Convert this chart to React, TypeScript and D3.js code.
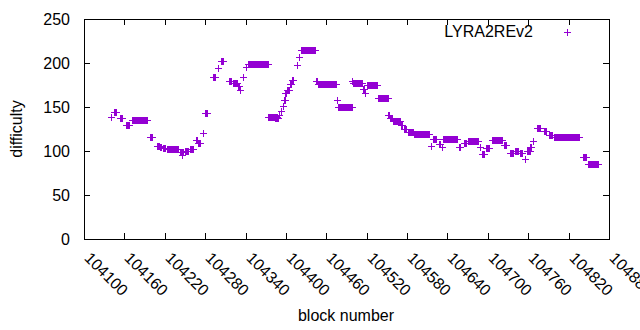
import React from 'react';
import * as d3 from 'd3';

const seriesName = 'LYRA2REv2';
const xTickValues = [104100, 104160, 104220, 104280, 104340, 104400, 104460, 104520, 104580, 104640, 104700, 104760, 104820, 104880];
const yTickValues = [0, 50, 100, 150, 200, 250];

// runs of blocks sharing the same difficulty: first block, last block, difficulty
const runFirst = [
  104140, 104145, 104154, 104163, 104172, 104198, 104208, 104213, 104217, 104224,
  104243, 104246, 104250, 104258, 104266, 104270, 104277, 104280, 104291, 104299,
  104303, 104315, 104322, 104329, 104332, 104336, 104340, 104344, 104374, 104384,
  104390, 104392, 104395, 104397, 104399, 104402, 104406, 104409, 104416, 104419,
  104422, 104445, 104448, 104476, 104478, 104498, 104500, 104515, 104517, 104520,
  104537, 104552, 104555, 104559, 104571, 104576, 104581, 104591, 104615, 104619,
  104627, 104632, 104634, 104657, 104664, 104670, 104688, 104692, 104697, 104706,
  104724, 104733, 104740, 104748, 104755, 104758, 104763, 104767, 104773, 104783,
  104791, 104798, 104841, 104849,
];
const runLast = [
  104140, 104147, 104157, 104167, 104193, 104201, 104211, 104214, 104220, 104240,
  104247, 104246, 104255, 104262, 104268, 104272, 104277, 104283, 104295, 104299,
  104307, 104319, 104327, 104331, 104332, 104336, 104340, 104373, 104386, 104388,
  104390, 104393, 104396, 104398, 104400, 104404, 104407, 104411, 104417, 104420,
  104443, 104446, 104474, 104476, 104498, 104498, 104513, 104516, 104517, 104536,
  104551, 104553, 104557, 104569, 104573, 104578, 104589, 104613, 104615, 104623,
  104629, 104632, 104654, 104659, 104667, 104686, 104689, 104694, 104701, 104721,
  104727, 104737, 104745, 104751, 104755, 104762, 104764, 104767, 104778, 104787,
  104795, 104836, 104846, 104863,
];
const runDifficulty = [
  139, 144, 138, 129, 135, 116, 106, 104, 103, 102,
  99, 96, 100, 102, 112, 109, 121, 143, 184, 194,
  202, 180, 177, 174, 169, 184, 196, 199, 139, 137,
  141, 146, 151, 158, 166, 169, 176, 181, 198, 207,
  215, 180, 176, 158, 150, 180, 177, 170, 166, 175,
  160, 141, 137, 134, 129, 125, 122, 119, 106, 114,
  108, 104, 114, 104, 109, 111, 104, 97, 103, 113,
  107, 98, 100, 98, 91, 100, 105, 111, 126, 123,
  118, 116, 93, 85,
];

const W = 640;
const H = 330;
const left = 84, right = 609, top = 19, bottom = 239;
const color = '#9400d3';
const font = '"Liberation Sans", Arial, sans-serif';
const fontSize = 16;

const points: { block: number; value: number }[] = [];
runFirst.forEach((first, i) => {
  for (let b = first; b <= runLast[i]; b++) points.push({ block: b, value: runDifficulty[i] });
});

const plus = (x: number, y: number) => {
  const cx = Math.round(x) + 0.5;
  const cy = Math.round(y) + 0.5;
  return `M${cx - 3.5},${cy}H${cx + 3.5}M${cx},${cy - 3.5}V${cy + 3.5}`;
};

export default function App() {
  const x = d3.scaleLinear().domain([104100, 104880]).range([left, right]);
  const y = d3.scaleLinear().domain([0, 250]).range([bottom, top]);
  const tick = 6;

  return (
    <svg width={W} height={H} style={{ position: 'absolute', left: 0, top: 0, background: '#fff' }}
      fontFamily={font} fontSize={fontSize}>
      <rect width={W} height={H} fill="#fff" />

      {/* y ticks, mirrored on the right */}
      {yTickValues.map(v => {
        const yy = Math.round(y(v)) + 0.5;
        return (
          <g key={'y' + v}>
            <path d={`M${left},${yy}h${tick}M${right},${yy}h${-tick}`} stroke="#000" shapeRendering="crispEdges" />
            <text x={70} y={yy + 5.5} textAnchor="end" fill="#000">{v}</text>
          </g>
        );
      })}

      {/* x ticks, mirrored on top */}
      {xTickValues.map(v => {
        const xx = Math.round(x(v)) + 0.5;
        return (
          <g key={'x' + v}>
            <path d={`M${xx},${bottom}v${-tick}M${xx},${top}v${tick}`} stroke="#000" shapeRendering="crispEdges" />
            <text transform={`translate(${xx - 1},${259}) rotate(45)`} textAnchor="start" fill="#000">{v}</text>
          </g>
        );
      })}

      <rect x={left + 0.5} y={top + 0.5} width={right - left} height={bottom - top}
        fill="none" stroke="#000" shapeRendering="crispEdges" />

      <path d={points.map(p => plus(x(p.block), y(p.value))).join('')}
        stroke={color} strokeWidth={1} fill="none" shapeRendering="crispEdges" />

      {/* legend */}
      <text x={533} y={37} textAnchor="end" fill="#000">{seriesName}</text>
      <path d={plus(567, 32)} stroke={color} fill="none" shapeRendering="crispEdges" />

      <text x={346} y={321} textAnchor="middle" fill="#000">block number</text>
      <text transform={`translate(22,129) rotate(-90)`} textAnchor="middle" fill="#000">difficulty</text>
    </svg>
  );
}
